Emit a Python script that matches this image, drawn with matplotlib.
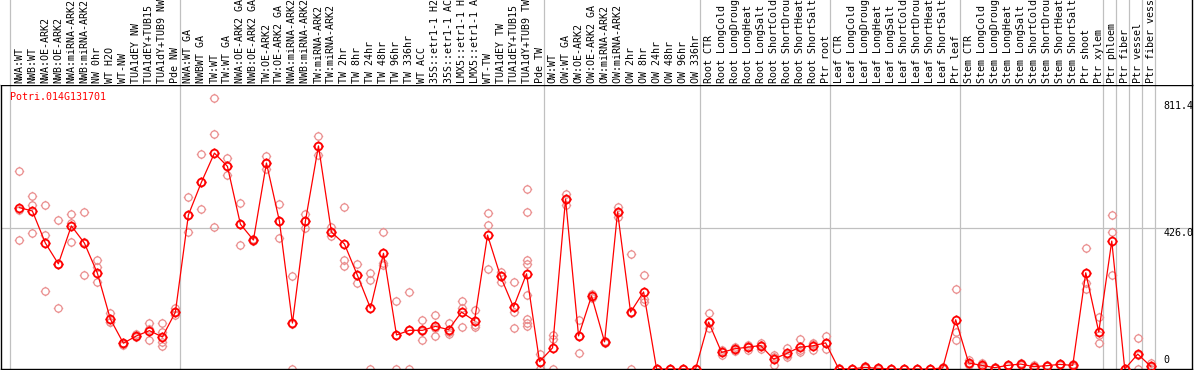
import matplotlib
matplotlib.use("Agg")
import matplotlib.pyplot as plt
from matplotlib.path import Path

# -----------------------------
# Data
# -----------------------------
gene = "Potri.014G131701"

samples = [
    "NWA:WT", "NWB:WT", "NWA:OE-ARK2", "NWB:OE-ARK2", "NWA:miRNA-ARK2", "NWB:miRNA-ARK2",
    "NW 0hr", "WT H2O", "WT-NW", "TUA1dEY NW", "TUA1dEY+TUB15 NW", "TUA1dY+TUB9 NW", "Pde NW",
    "NWA:WT GA", "NWBWT GA", "TW:WT", "TW:WT GA", "NWA:OE-ARK2 GA", "NWB:OE-ARK2 GA",
    "TW:OE-ARK2", "TW:OE-ARK2 GA", "NWA:miRNA-ARK2 GA", "NWB:miRNA-ARK2 GA", "TW:miRNA-ARK2",
    "TW:miRNA-ARK2 GA", "TW 2hr", "TW 8hr", "TW 24hr", "TW 48hr", "TW 96hr", "TW 336hr",
    "WT ACC", "35S::etr1-1 H2O", "35S::etr1-1 ACC", "LMX5::etr1-1 H2O", "LMX5::etr1-1 ACC",
    "WT-TW", "TUA1dEY TW", "TUA1dEY+TUB15 TW", "TUA1dY+TUB9 TW", "Pde TW",
    "OW:WT", "OW:WT GA", "OW:OE-ARK2", "OW:OE-ARK2 GA", "OW:miRNA-ARK2", "OW:miRNA-ARK2 GA",
    "OW 2hr", "OW 8hr", "OW 24hr", "OW 48hr", "OW 96hr", "OW 336hr",
    "Root CTR", "Root LongCold", "Root LongDrought", "Root LongHeat", "Root LongSalt",
    "Root ShortCold", "Root ShortDrought", "Root ShortHeat", "Root ShortSalt", "Ptr root",
    "Leaf CTR", "Leaf LongCold", "Leaf LongDrought", "Leaf LongHeat", "Leaf LongSalt",
    "Leaf ShortCold", "Leaf ShortDrought", "Leaf ShortHeat", "Leaf ShortSalt", "Ptr leaf",
    "Stem CTR", "Stem LongCold", "Stem LongDrought", "Stem LongHeat", "Stem LongSalt",
    "Stem ShortCold", "Stem ShortDrought", "Stem ShortHeat", "Stem ShortSalt", "Ptr shoot",
    "Ptr xylem", "Ptr phloem", "Ptr fiber", "Ptr vessel", "Ptr fiber vessel",
]

mean_expr = [
    488, 478, 381, 318, 433, 381, 290, 151, 78, 100, 116, 97, 172,
    466, 565, 653, 613, 438, 390, 623, 447, 139, 448, 675, 414, 378,
    283, 184, 350, 103, 117, 117, 129, 119, 172, 146, 405, 280, 187, 288, 22,
    64, 514, 100, 221, 82, 475, 172, 233, 0, 0, 0, 0,
    142, 50, 61, 66, 71, 30, 47, 66, 70, 79,
    1, 0, 5, 2, 0, 0, 0, 0, 3, 149,
    18, 11, 4, 11, 15, 7, 10, 14, 11, 291,
    112, 387, 0, 45, 8,
]

replicates = [
    [598, 480, 390], [523, 496, 411], [495, 405, 237], [450, 318, 184], [469, 441, 384],
    [474, 384, 285], [330, 310, 262], [169, 142, 142], [80, 78, 74], [106, 100, 96],
    [140, 120, 88], [138, 112, 83, 71], [186, 172, 162],
    [520, 466, 414], [650, 565, 483], [819, 711, 429], [637, 613, 586], [501, 438, 375],
    [394, 390, 386], [644, 623, 606], [498, 447, 396], [282, 135, 0], [470, 448, 426],
    [705, 675, 647], [428, 414, 401], [489, 330, 312], [318, 283, 260], [291, 269, 0],
    [414, 322, 314], [205, 104, 0], [233, 118, 0], [149, 114, 88], [163, 124, 100],
    [139, 112, 106], [206, 183, 127], [177, 134, 127], [471, 435, 302], [293, 280, 263],
    [264, 172, 124], [544, 474, 330, 318, 224, 150, 140, 129], [46, 20, 0],
    [103, 92, 0], [530, 514, 496], [149, 100, 48], [228, 221, 214], [85, 82, 78],
    [491, 475, 461], [348, 168, 0], [285, 211, 204], [0, 0, 0], [0, 0, 0], [0, 0, 0],
    [0, 0, 0],
    [170, 142, 124], [56, 52, 42], [68, 61, 55], [73, 67, 58], [80, 73, 60], [42, 35, 13],
    [64, 41, 36], [91, 57, 50], [78, 76, 56], [99, 78, 60],
    [2, 1, 0], [0, 0, 0], [8, 5, 2], [3, 2, 1], [0, 0, 0], [0, 0, 0], [0, 0, 0], [0, 0, 0],
    [5, 3, 1], [242, 112, 88],
    [28, 15, 11], [18, 10, 5], [6, 4, 2], [13, 11, 9], [17, 15, 13], [12, 6, 3],
    [12, 10, 8], [16, 14, 12], [16, 10, 7], [366, 260, 242],
    [157, 104, 79], [465, 414, 283], [0, 0, 0], [94, 41, 0], [18, 6, 0],
]

# last sample index of each group (a separator line follows it)
group_ends = [12, 40, 52, 62, 72, 83, 84, 85, 86, 87]
y_max_label = 811.4
y_mid_label = 426.0

# -----------------------------
# Figure layout (pixel based)
# -----------------------------
W, H = 1194, 370
fig = plt.figure(figsize=(W / 100, H / 100), dpi=100)
head_px = 85
ax = fig.add_axes([1 / W, 1 / H, 1191 / W, (H - head_px - 1) / H])
axh = fig.add_axes([1 / W, (H - head_px) / H, 1191 / W, head_px / H], sharex=ax)

n = len(samples)
x = list(range(n))
ax.set_xlim(-1.41, 90.17)
ax.set_ylim(0, 859)
axh.set_ylim(0, head_px)

for a in (ax, axh):
    a.set_xticks([])
    a.set_yticks([])
    a.tick_params(length=0)
for s in ax.spines.values():
    s.set_color("black")
    s.set_linewidth(1)
for side in ("left", "top", "bottom"):
    axh.spines[side].set_visible(False)
axh.spines["right"].set_linewidth(1)

grid_c = "#c0c0c0"
seps = [-0.72] + [g + 0.33 for g in group_ends]
for a in (ax, axh):
    for sx in seps:
        a.axvline(sx, color=grid_c, lw=0.9, zorder=0)
ax.axhline(y_mid_label, color=grid_c, lw=0.9, zorder=0)

# circle marker with small ticks
circ = Path.unit_circle()
ticks = Path([(0, 1), (0, 1.3), (0, -1), (0, -1.3), (1, 0), (1.3, 0), (-1, 0), (-1.3, 0)],
             [Path.MOVETO, Path.LINETO] * 4)
mk = Path.make_compound_path(circ, ticks)

# replicates
for i, vals in enumerate(replicates):
    ax.plot([i] * len(vals), vals, linestyle="none", marker=mk, markersize=6.8,
            markerfacecolor="none", markeredgecolor="#ea8f8f", markeredgewidth=0.9, zorder=2)

# mean line
ax.plot(x, mean_expr, color="red", lw=0.9, marker=mk, markersize=7.2,
        markerfacecolor="none", markeredgecolor="red", markeredgewidth=1.3, zorder=3)

mono = "DejaVu Sans Mono"
fs = 7.2

# sample labels in the header
for i, lab in enumerate(samples):
    axh.text(i, 2, lab, rotation=90, ha="center", va="bottom", family=mono,
             fontsize=fs, color="black", clip_on=True)

# gene name
ax.annotate(gene, xy=(0, 1), xycoords="axes fraction", xytext=(9, -12),
            textcoords="offset pixels", ha="left", va="center", family=mono,
            fontsize=fs, color="red")

# value labels on the right
xl = 87.95
ax.text(xl, y_max_label, f"{y_max_label:.1f}", ha="left", va="top", family=mono, fontsize=fs)
ax.text(xl, y_mid_label, f"{y_mid_label:.1f}", ha="left", va="top", family=mono, fontsize=fs)
ax.annotate("0", xy=(xl, 0), xytext=(0, 4), textcoords="offset pixels",
            ha="left", va="bottom", family=mono, fontsize=fs)

fig.savefig("out.png", dpi=100)
